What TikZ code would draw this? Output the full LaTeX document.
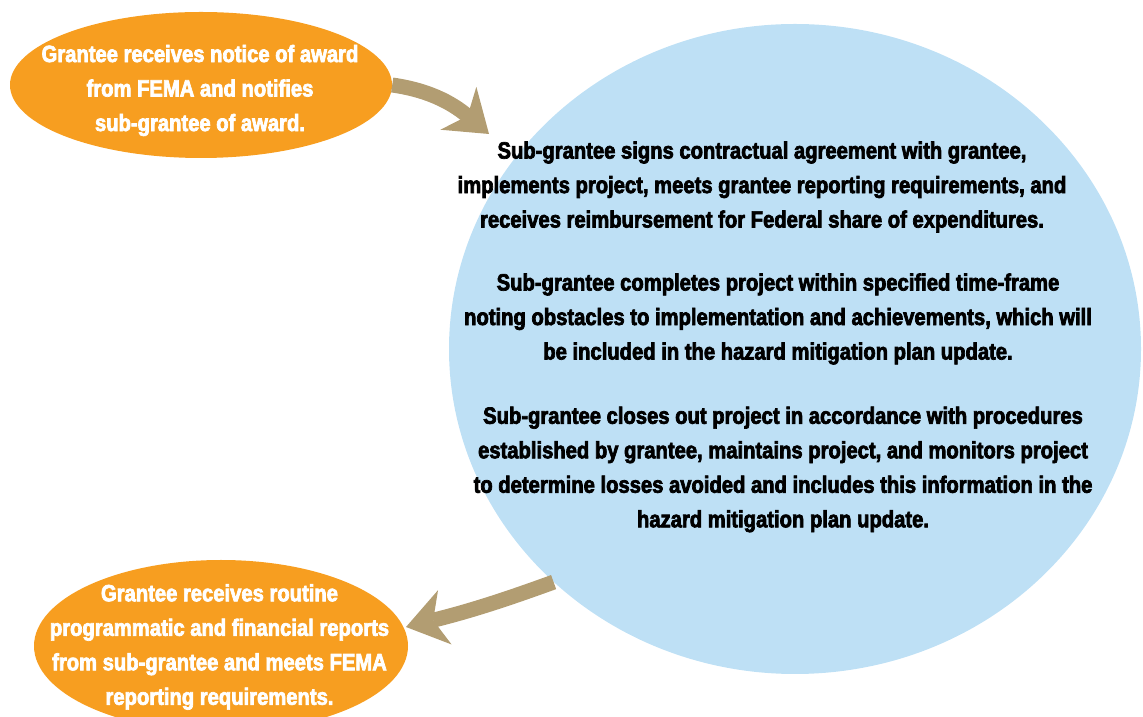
\documentclass[tikz,border=0pt]{standalone}
\usepackage{fontspec}
\newfontfamily\labelfont[FakeStretch=0.86, FakeBold=3]{Liberation Sans}
\usetikzlibrary{shapes.geometric,arrows.meta}
\definecolor{awardorange}{RGB}{247,158,32}
\definecolor{projblue}{RGB}{190,224,245}
\definecolor{arrowtan}{RGB}{178,157,114}

\begin{document}
\begin{tikzpicture}[x=1pt,y=1pt,
    blob/.style={ellipse, fill=awardorange, inner sep=0pt},
    blobtext/.style={text=white, align=center, inner sep=0pt, font=\labelfont\bfseries\fontsize{23.5}{34.5}\selectfont},
    bodytext/.style={text=black, align=center, inner sep=0pt, font=\labelfont\bfseries\fontsize{23.5}{34.5}\selectfont},
    flowarrow/.style={draw=arrowtan, line width=15pt, -{Stealth[length=40pt, width=56pt, inset=12pt, line width=0pt]}}]
    \useasboundingbox (0,0) rectangle (1143,717);

    % big circle with the sub-grantee steps
    \node[ellipse, fill=projblue, inner sep=0pt, minimum width=692pt, minimum height=650pt] (circle) at (795,368) {};
    \node[bodytext] (signs) at (762,530) {Sub-grantee signs contractual agreement with grantee,\\implements project, meets grantee reporting requirements, and\\receives reimbursement for Federal share of expenditures.};
    \node[bodytext] (completes) at (778,398) {Sub-grantee completes project within specified time-frame\\noting obstacles to implementation and achievements, which will\\be included in the hazard mitigation plan update.};
    \node[bodytext] (closes) at (783,247.5) {Sub-grantee closes out project in accordance with procedures\\established by grantee, maintains project, and monitors project\\to determine losses avoided and includes this information in the\\hazard mitigation plan update.};

    % grantee steps
    \node[blob, minimum width=382pt, minimum height=146pt] (award) at (201,632) {};
    \node[blobtext] (awardtext) at (200,626.5) {Grantee receives notice of award\\from FEMA and notifies\\sub-grantee of award.};
    \node[blob, minimum width=374pt, minimum height=172pt] (reports) at (221,71) {};
    \node[blobtext] (reportstext) at (219.5,70) {Grantee receives routine\\programmatic and financial reports\\from sub-grantee and meets FEMA\\reporting requirements.};

    % arrows
    \coordinate (awardtip) at (489,583);
    \coordinate (reportstip) at (406,90);
    \draw[flowarrow] (award.east) to[out=-8, in=140] (awardtip);
    \draw[flowarrow] (circle.224) to[out=200, in=14] (reportstip);
\end{tikzpicture}
\end{document}
